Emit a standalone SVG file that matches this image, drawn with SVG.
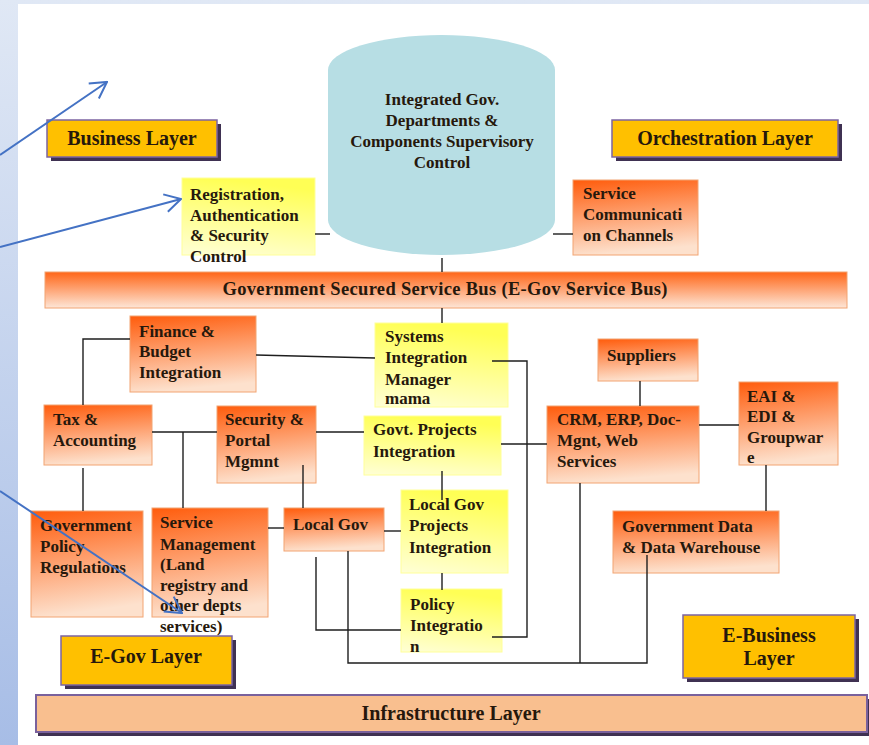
<svg xmlns="http://www.w3.org/2000/svg" width="869" height="745" viewBox="0 0 869 745">
<defs>
<linearGradient id="bgL" x1="0" y1="0" x2="0" y2="1"><stop offset="0" stop-color="#e0e8f5"/><stop offset="1" stop-color="#a7bde6"/></linearGradient>
<linearGradient id="og" x1="0" y1="0" x2="0.15" y2="1"><stop offset="0" stop-color="#ff5c0c"/><stop offset="1" stop-color="#fde1cd"/></linearGradient>
<linearGradient id="yg" x1="0.2" y1="0" x2="0" y2="1"><stop offset="0" stop-color="#ffff55"/><stop offset="1" stop-color="#ffffd6"/></linearGradient>
<linearGradient id="bus" x1="0" y1="0" x2="0" y2="1"><stop offset="0" stop-color="#ff6618"/><stop offset="1" stop-color="#fde6d7"/></linearGradient>
<marker id="ah" viewBox="0 0 20 20" refX="19" refY="10" markerWidth="20" markerHeight="20" markerUnits="userSpaceOnUse" orient="auto">
<path d="M3,1 L19,10 L3,19" fill="none" stroke="#4472c4" stroke-width="2"/>
</marker>
</defs>
<style>
text{font-family:"Liberation Serif","Times New Roman",serif;font-weight:bold;fill:#26180c}
.t{font-size:17px}
.lay{font-size:20px}
.o{fill:url(#og);stroke:#f2a472;stroke-width:1}
.y{fill:url(#yg);stroke:#ffff9a;stroke-width:1}
.L{fill:#ffc000;stroke:#7c64a2;stroke-width:1.5}
.sh{fill:#3f3152}
.c{fill:none;stroke:#1e1e1e;stroke-width:1.4}
.ar{fill:none;stroke:#4472c4;stroke-width:2}
</style>
<rect x="0" y="0" width="869" height="745" fill="url(#bgL)"/>
<rect x="18" y="4" width="851" height="741" fill="#ffffff"/>

<g id="cylinder">
<path d="M328,70 A113.5,35 0 0 1 555,70 L555,220 A113.5,35 0 0 1 328,220 Z" fill="#b7dee4"/>
<text class="t" x="442" y="105" text-anchor="middle">Integrated Gov.</text>
<text class="t" x="442" y="126" text-anchor="middle">Departments &amp;</text>
<text class="t" x="442" y="147" text-anchor="middle">Components Supervisory</text>
<text class="t" x="442" y="168" text-anchor="middle">Control</text>
</g>

<g id="business-layer">
<rect class="sh" x="51" y="124" width="170" height="37"/>
<rect class="L" x="47" y="120" width="170" height="37"/>
<text class="lay" x="132" y="145" text-anchor="middle">Business Layer</text>
</g>
<g id="orchestration-layer">
<rect class="sh" x="616" y="124" width="226" height="37"/>
<rect class="L" x="612" y="120" width="226" height="37"/>
<text class="lay" x="725" y="145" text-anchor="middle">Orchestration Layer</text>
</g>

<g id="registration">
<rect class="y" x="182" y="178" width="133" height="77"/>
<text class="t" x="190" y="200">Registration,</text>
<text class="t" x="190" y="221">Authentication</text>
<text class="t" x="190" y="241">&amp; Security</text>
<text class="t" x="190" y="262">Control</text>
</g>
<g id="service-communication">
<rect class="o" x="573" y="180" width="125" height="75"/>
<text class="t" x="583" y="199">Service</text>
<text class="t" x="583" y="220">Communicati</text>
<text class="t" x="583" y="241">on Channels</text>
</g>

<g id="service-bus">
<rect x="45" y="272" width="802" height="36" fill="url(#bus)" stroke="#f2a472" stroke-width="1"/>
<text x="445" y="295" text-anchor="middle" font-size="18.5" textLength="445" lengthAdjust="spacing">Government Secured Service Bus (E-Gov Service Bus)</text>
</g>

<g id="finance">
<rect class="o" x="130" y="316" width="126" height="76"/>
<text class="t" x="139" y="337">Finance &amp;</text>
<text class="t" x="139" y="357">Budget</text>
<text class="t" x="139" y="378">Integration</text>
</g>
<g id="systems-integration">
<rect class="y" x="375" y="323" width="133" height="84"/>
<text class="t" x="385" y="342">Systems</text>
<text class="t" x="385" y="363">Integration</text>
<text class="t" x="385" y="385">Manager</text>
<text class="t" x="385" y="404">mama</text>
</g>
<g id="tax">
<rect class="o" x="44" y="405" width="108" height="60"/>
<text class="t" x="53" y="425">Tax &amp;</text>
<text class="t" x="53" y="446">Accounting</text>
</g>
<g id="security-portal">
<rect class="o" x="217" y="406" width="99" height="77"/>
<text class="t" x="225" y="425">Security &amp;</text>
<text class="t" x="225" y="446">Portal</text>
<text class="t" x="225" y="467">Mgmnt</text>
</g>
<g id="govt-projects">
<rect class="y" x="364" y="416" width="137" height="59"/>
<text class="t" x="373" y="435">Govt. Projects</text>
<text class="t" x="373" y="457">Integration</text>
</g>
<g id="suppliers">
<rect class="o" x="598" y="339" width="100" height="42"/>
<text class="t" x="607" y="361">Suppliers</text>
</g>
<g id="crm">
<rect class="o" x="547" y="406" width="152" height="77"/>
<text class="t" x="557" y="425">CRM, ERP, Doc-</text>
<text class="t" x="557" y="446">Mgnt, Web</text>
<text class="t" x="557" y="467">Services</text>
</g>
<g id="eai">
<rect class="o" x="739" y="382" width="99" height="83"/>
<text class="t" x="747" y="402">EAI &amp;</text>
<text class="t" x="747" y="422">EDI &amp;</text>
<text class="t" x="747" y="443">Groupwar</text>
<text class="t" x="747" y="463">e</text>
</g>
<g id="gov-policy">
<rect class="o" x="31" y="511" width="112" height="106"/>
<text class="t" x="40" y="531">Government</text>
<text class="t" x="40" y="552">Policy</text>
<text class="t" x="40" y="573">Regulations</text>
</g>
<g id="service-management">
<rect class="o" x="152" y="508" width="116" height="109"/>
<text class="t" x="160" y="528">Service</text>
<text class="t" x="160" y="550">Management</text>
<text class="t" x="160" y="570">(Land</text>
<text class="t" x="160" y="591">registry and</text>
<text class="t" x="160" y="611">other depts</text>
<text class="t" x="160" y="632">services)</text>
</g>
<g id="local-gov">
<rect class="o" x="284" y="508" width="100" height="43"/>
<text class="t" x="293" y="530">Local Gov</text>
</g>
<g id="local-gov-projects">
<rect class="y" x="401" y="490" width="107" height="83"/>
<text class="t" x="409" y="510">Local Gov</text>
<text class="t" x="409" y="531">Projects</text>
<text class="t" x="409" y="553">Integration</text>
</g>
<g id="policy-integration">
<rect class="y" x="401" y="589" width="101" height="63"/>
<text class="t" x="410" y="610">Policy</text>
<text class="t" x="410" y="631">Integratio</text>
<text class="t" x="410" y="652">n</text>
</g>
<g id="gov-data">
<rect class="o" x="613" y="511" width="166" height="62"/>
<text class="t" x="622" y="532">Government Data</text>
<text class="t" x="622" y="553">&amp; Data Warehouse</text>
</g>
<g id="egov-layer">
<rect class="sh" x="65" y="640" width="171" height="49"/>
<rect class="L" x="61" y="636" width="171" height="49"/>
<text class="lay" x="146" y="663" text-anchor="middle">E-Gov Layer</text>
</g>
<g id="ebusiness-layer">
<rect class="sh" x="687" y="619" width="172" height="63"/>
<rect class="L" x="683" y="615" width="172" height="63"/>
<text class="lay" x="769" y="642" text-anchor="middle">E-Business</text>
<text class="lay" x="769" y="665" text-anchor="middle">Layer</text>
</g>
<g id="infrastructure-layer">
<rect class="sh" x="38" y="699" width="831" height="37"/>
<rect x="36" y="695" width="831" height="37" fill="#f9bf8f" stroke="#7a619c" stroke-width="2"/>
<text class="lay" x="451" y="720" text-anchor="middle">Infrastructure Layer</text>
</g>

<g id="connectors">
<path class="c" d="M315,234 H330"/>
<path class="c" d="M553,234 H573"/>
<path class="c" d="M442,258 V272"/>
<path class="c" d="M442,308 V323"/>
<path class="c" d="M256,355 L375,358"/>
<path class="c" d="M130,339 H83 V405"/>
<path class="c" d="M83,468 V511"/>
<path class="c" d="M152,432 H217"/>
<path class="c" d="M183,432 V508"/>
<path class="c" d="M303,465 V508"/>
<path class="c" d="M316,432 H364"/>
<path class="c" d="M501,444 H547"/>
<path class="c" d="M442,471 V500"/>
<path class="c" d="M442,573 V590"/>
<path class="c" d="M384,531 H401"/>
<path class="c" d="M268,528 H284"/>
<path class="c" d="M316,557 V630 H401"/>
<path class="c" d="M492,361 H527 V637 H492"/>
<path class="c" d="M348,551 V663 H647 V555"/>
<path class="c" d="M580,483 V663"/>
<path class="c" d="M640,381 V406"/>
<path class="c" d="M699,425 H739"/>
<path class="c" d="M766,465 V511"/>
</g>

<g id="blue-arrows">
<path class="ar" d="M0,155 L107,82" marker-end="url(#ah)"/>
<path class="ar" d="M0,247 L181,199" marker-end="url(#ah)"/>
<path class="ar" d="M0,491 L182,613" marker-end="url(#ah)"/>
</g>
</svg>
